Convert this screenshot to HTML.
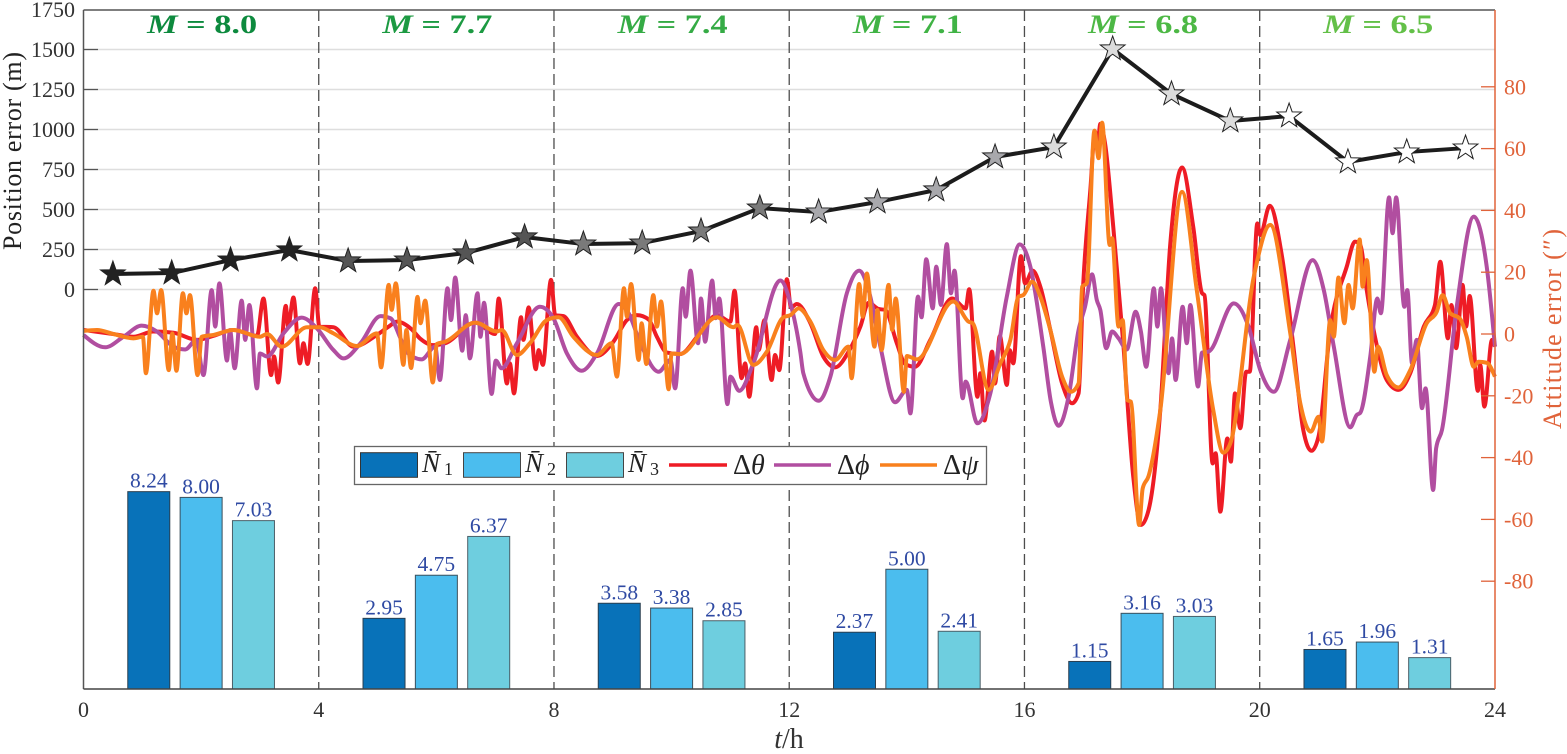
<!DOCTYPE html>
<html lang="en">
<head>
<meta charset="utf-8">
<title>Position and attitude error chart</title>
<style>
html,body{margin:0;padding:0;background:#fff;width:1567px;height:754px;overflow:hidden}
svg{display:block}
text{font-family:"Liberation Serif","DejaVu Serif",serif}
</style>
</head>
<body>
<svg id="chart" xmlns="http://www.w3.org/2000/svg" width="1567" height="754" viewBox="0 0 1567 754">
  <rect x="0" y="0" width="1567" height="754" fill="#fff"/>
  <g id="grid"></g>
  <g id="bars"></g>
  <g id="dividers"></g>
  <g id="series"></g>
  <g id="position"></g>
  <g id="axes"></g>
  <g id="phases"></g>
  <text transform="translate(21,151) rotate(-90)" text-anchor="middle" font-size="26" fill="#222" textLength="198" lengthAdjust="spacing">Position error (m)</text>
  <text transform="translate(1561,329) rotate(-90)" text-anchor="middle" font-size="26" fill="#e0633a" textLength="200" lengthAdjust="spacing">Attitude error (″)</text>
  <text x="789" y="748" text-anchor="middle" font-size="28" fill="#333"><tspan font-style="italic">t</tspan>/h</text>
  <g>
    <rect x="354.5" y="446.5" width="632" height="38" fill="#fff" stroke="#666" stroke-width="1.3"/>
    <rect x="360.5" y="452.7" width="57" height="24.6" fill="#0872b9" stroke="#333" stroke-width="1"/>
    <text x="422" y="472" font-size="27" fill="#222"><tspan font-style="italic">N̄</tspan><tspan font-size="18" dx="4" dy="3">1</tspan></text>
    <rect x="463.5" y="452.7" width="57" height="24.6" fill="#4bbdee" stroke="#444" stroke-width="1"/>
    <text x="525" y="472" font-size="27" fill="#222"><tspan font-style="italic">N̄</tspan><tspan font-size="18" dx="4" dy="3">2</tspan></text>
    <rect x="566.5" y="452.7" width="57" height="24.6" fill="#6ecedf" stroke="#444" stroke-width="1"/>
    <text x="628" y="472" font-size="27" fill="#222"><tspan font-style="italic">N̄</tspan><tspan font-size="18" dx="4" dy="3">3</tspan></text>
    <line x1="669" x2="727" y1="465" y2="465" stroke="#ee1c25" stroke-width="3.6"/>
    <text x="733" y="474" font-size="28" fill="#222">Δ<tspan font-style="italic">θ</tspan></text>
    <line x1="774" x2="831" y1="465" y2="465" stroke="#b14ea0" stroke-width="3.6"/>
    <text x="837" y="474" font-size="28" fill="#222">Δ<tspan font-style="italic">ϕ</tspan></text>
    <line x1="880" x2="937" y1="465" y2="465" stroke="#f9801d" stroke-width="3.6"/>
    <text x="943" y="474" font-size="28" fill="#222">Δ<tspan font-style="italic">ψ</tspan></text>
  </g>
</svg>
<script>
const xTicks = [0, 4, 8, 12, 16, 20, 24];
const leftTicks = [0, 250, 500, 750, 1000, 1250, 1500, 1750];
const rightTicks = [-80, -60, -40, -20, 0, 20, 40, 60, 80];
const dividerHours = [4, 8, 12, 16, 20];
const magnitudeLabels = ['8.0', '7.7', '7.4', '7.1', '6.8', '6.5'];
const phaseCenters = [2, 6, 10, 14, 18, 22];
const n1Values = [8.24, 2.95, 3.58, 2.37, 1.15, 1.65];
const n2Values = [8.00, 4.75, 3.38, 5.00, 3.16, 1.96];
const n3Values = [7.03, 6.37, 2.85, 2.41, 3.03, 1.31];
const positionHours = [0.5, 1.5, 2.5, 3.5, 4.5, 5.5, 6.5, 7.5, 8.5, 9.5, 10.5, 11.5, 12.5, 13.5, 14.5, 15.5, 16.5, 17.5, 18.5, 19.5, 20.5, 21.5, 22.5, 23.5];
const positionError = [97, 103, 184, 247, 178, 184, 228, 328, 284, 290, 365, 509, 484, 547, 622, 828, 890, 1503, 1222, 1053, 1084, 797, 859, 884];
const thetaSeries = [[0,1.3],[.5,0],[.85,-.9],[1.19,.8],[1.53,.4],[1.93,-1.9],[2.21,-.6],[2.55,1.3],[2.95,-.6],[3.06,11.5],[3.19,-13.3],[3.24,-7.3],[3.31,-15.7],[3.44,9.1],[3.48,2.4],[3.57,11.8],[3.68,-9.5],[3.74,-3],[3.81,-9.7],[3.94,14.8],[4.01,2.4],[4.25,2.2],[4.59,-4.1],[4.99,-.3],[5.19,2.4],[5.33,4],[5.58,1.5],[5.72,-1.4],[5.95,-3.6],[6.15,-3],[6.66,3.7],[7,0],[7.06,11.5],[7.2,-16],[7.25,-9.5],[7.32,-19.2],[7.44,5.4],[7.48,-1.9],[7.57,8.6],[7.69,-11.4],[7.74,-5.2],[7.81,-10],[7.95,17.5],[8.02,6.1],[8.16,5.8],[8.39,-.9],[8.73,-7.1],[9.01,-2.5],[9.24,4.5],[9.41,6.1],[9.61,4.7],[9.75,-.9],[9.92,-6],[10.14,-6.5],[10.48,.2],[10.77,6.1],[11,4],[11.07,14],[11.19,-14.3],[11.25,-9.5],[11.32,-20.3],[11.44,2.2],[11.48,-5.2],[11.58,4.5],[11.7,-14.9],[11.76,-6.8],[11.83,-11.7],[11.96,17.7],[12.03,8.6],[12.13,9.7],[12.36,3.5],[12.58,-7.3],[12.78,-10.8],[13.01,-5.7],[13.21,2.4],[13.35,10.1],[13.52,8.1],[13.63,7.8],[13.83,-3],[13.97,-9.7],[14.14,-10.6],[14.4,-1.9],[14.77,11.5],[15,8.3],[15.06,14.5],[15.2,-20.3],[15.25,-12.7],[15.32,-28],[15.45,-5.7],[15.5,-16],[15.58,-.6],[15.7,-16.5],[15.75,-5.2],[15.81,-9.5],[15.94,25.2],[16.01,16.4],[16.14,20.5],[16.27,15.3],[16.44,1.3],[16.64,-16],[16.81,-22.4],[16.92,-19.2],[17,16.4],[17.12,46.6],[17.2,65.5],[17.24,60],[17.29,68],[17.37,61.7],[17.51,34.7],[17.68,-3],[17.85,-46.2],[17.98,-61.8],[18.11,-57],[18.31,-24.6],[18.48,29.3],[18.68,53.9],[18.87,34.7],[19.02,13.2],[19.06,12.6],[19.2,-41.9],[19.25,-38.6],[19.33,-57.5],[19.45,-33.8],[19.51,-41.3],[19.58,-19.2],[19.67,-30.5],[19.77,-12.2],[19.83,-12.2],[19.96,35.8],[20.01,32],[20.17,41.5],[20.38,25],[20.58,-5.2],[20.74,-31],[20.88,-37.8],[21,-33.2],[21.2,1.3],[21.48,21.8],[21.62,29.9],[21.71,28.8],[21.82,14.2],[21.96,-.9],[22.16,-14.9],[22.36,-18.1],[22.56,-12.7],[22.79,2.4],[22.98,9.4],[23.07,23.4],[23.2,-1.4],[23.26,9.4],[23.34,-4.6],[23.45,15.9],[23.51,2.4],[23.57,12.3],[23.71,-18.4],[23.75,-10],[23.82,-23.5],[23.95,-1.9],[24,-4.1]];
const phiSeries = [[0,-.3],[.37,-4.3],[.68,-.9],[.99,2.7],[1.25,.8],[1.53,-4.1],[1.73,-5],[1.92,-1.9],[2.04,-13.3],[2.18,14.2],[2.24,2.4],[2.31,16.4],[2.44,-8.6],[2.49,1.3],[2.57,-11.1],[2.69,10.8],[2.75,-1.9],[2.82,9.4],[2.95,-17.6],[3,-6.3],[3.12,-7.3],[3.4,.2],[3.71,5.3],[3.97,1.8],[4.25,-5.2],[4.42,-7.9],[4.71,-3],[5.05,5.8],[5.22,5.1],[5.39,-1.4],[5.49,-5.7],[5.75,-8.2],[5.98,-4.1],[6.06,-14.9],[6.19,14.8],[6.25,4.5],[6.32,18.3],[6.44,-5.4],[6.5,6.1],[6.57,-7.9],[6.7,13.2],[6.75,-.9],[6.81,10.1],[6.94,-19.4],[7.01,-8.6],[7.11,-11.1],[7.37,-3],[7.76,8.8],[7.99,5.1],[8.22,-6.3],[8.47,-11.9],[8.73,-6.3],[9.1,9.7],[9.27,6.7],[9.46,-2.5],[9.78,-12.2],[9.98,-8.4],[10.06,-17.6],[10.19,14.8],[10.24,5.6],[10.32,20.5],[10.45,-3],[10.5,11.5],[10.57,-2.5],[10.69,17.3],[10.75,5.1],[10.81,11.5],[10.95,-22.7],[11,-13.8],[11.15,-18.4],[11.39,-9.5],[11.85,17.3],[12.02,10],[12.19,-6],[12.24,-12.7],[12.5,-21.6],[12.7,-13.8],[12.98,13.2],[13.19,20.5],[13.35,14.2],[13.55,-4.1],[13.8,-22.1],[14,-18.1],[14.06,-25.7],[14.19,12.1],[14.25,5.4],[14.33,24.2],[14.44,8.3],[14.5,21.8],[14.58,9.4],[14.68,29.1],[14.75,13.2],[14.81,20.5],[14.95,-20.8],[15,-15.4],[15.2,-28.9],[15.42,-19.2],[15.7,12.1],[15.92,29],[16.1,21.8],[16.32,-4.1],[16.45,-22],[16.58,-29.7],[16.75,-20.3],[16.92,1.3],[17.03,8.8],[17.15,19.3],[17.23,11],[17.29,7.8],[17.39,-4.6],[17.49,.8],[17.6,-1.4],[17.74,-5],[17.89,7.2],[17.98,.8],[18.07,-10.6],[18.2,14.8],[18.26,2.4],[18.32,14.8],[18.45,-12.7],[18.51,-1.4],[18.57,-14.9],[18.69,8.8],[18.76,-3],[18.82,9.4],[18.95,-17],[19.02,-6],[19.13,-5.7],[19.56,9.9],[19.81,2.4],[20.01,-11.7],[20.24,-18.7],[20.52,-1.9],[20.9,23.9],[21.09,14.2],[21.26,-4.1],[21.54,-30.2],[21.65,-26.2],[21.71,-25.5],[21.88,-7.3],[22,11.5],[22.06,6.7],[22.2,44.2],[22.26,32.6],[22.32,44.2],[22.46,8.8],[22.51,14.2],[22.59,-9.5],[22.67,-1.9],[22.76,-24],[22.82,-17.6],[22.95,-50.5],[23,-37],[23.1,-31],[23.35,8.8],[23.64,38],[23.86,21.8],[24,-4.1]];
const psiSeries = [[0,1],[.23,1.3],[.51,0],[.85,-1.4],[1.01,-.9],[1.06,-12.7],[1.19,14],[1.25,6.7],[1.32,14.2],[1.45,-11.7],[1.51,.2],[1.58,-11.9],[1.69,13.2],[1.75,6.7],[1.81,12.6],[1.94,-13.3],[2.01,-.9],[2.21,-.3],[2.55,1.3],[3,-.9],[3.12,0],[3.37,-4.1],[3.8,2.2],[4.02,2.2],[4.25,.2],[4.65,-3.9],[4.99,.2],[5.06,-10.8],[5.19,15.9],[5.24,7.8],[5.31,16.4],[5.44,-10],[5.49,1.3],[5.57,-11],[5.68,12],[5.73,3.5],[5.81,10.8],[5.94,-15.7],[6.01,-3.2],[6.15,-2.5],[6.66,3.7],[7.03,.8],[7.11,1.3],[7.37,-6.8],[7.59,-3],[7.88,4.5],[8.08,5.4],[8.33,-.9],[8.73,-6.8],[8.98,-3],[9.07,-13.8],[9.19,14.8],[9.24,5.6],[9.31,16.2],[9.44,-8.4],[9.49,3.5],[9.57,-9.7],[9.69,12.6],[9.75,2.4],[9.82,10.5],[9.95,-17.9],[10,-6.3],[10.14,-6.5],[10.77,5.4],[11.05,2.2],[11.12,2.9],[11.39,-10],[11.62,-5.7],[11.9,5.4],[12.02,6.1],[12.16,8.3],[12.36,4],[12.58,-5.2],[12.78,-8.4],[13.01,-4.1],[13.06,-14.3],[13.19,16.2],[13.25,5.6],[13.32,19.6],[13.45,-4.1],[13.5,7.8],[13.57,-5.2],[13.69,15.9],[13.75,1.3],[13.81,11.5],[13.95,-18.7],[14,-7.1],[14.17,-8.2],[14.79,10.5],[15.05,4],[15.12,3.5],[15.39,-18.1],[15.59,-9.5],[15.76,-1.9],[15.9,12.1],[15.98,12.6],[16.13,16.9],[16.27,12.1],[16.44,1.3],[16.64,-13.8],[16.79,-18.7],[16.92,-16],[16.98,15.3],[17.06,16.4],[17.19,65.8],[17.26,56.9],[17.32,68.4],[17.45,28.8],[17.49,31],[17.6,2.4],[17.67,4.5],[17.75,-21.4],[17.81,-21.9],[17.95,-61.8],[18.01,-50],[18.11,-46],[18.31,-24.6],[18.68,46],[18.93,14.2],[19.21,-24.6],[19.38,-38.4],[19.5,-35.4],[19.9,18.6],[20.18,35.3],[20.52,.2],[20.69,-22.4],[20.87,-31.6],[21,-26.8],[21.06,-34.8],[21.2,4.5],[21.26,-.9],[21.34,18.3],[21.44,3.5],[21.51,15.9],[21.58,8.3],[21.7,30.6],[21.75,15.3],[21.82,23.9],[21.95,-12.2],[22.01,-4.1],[22.16,-13.3],[22.36,-17.3],[22.56,-11.7],[22.84,3.5],[23.01,7.2],[23.11,12.6],[23.24,6.7],[23.4,5.1],[23.52,-.9],[23.64,-10.6],[23.72,-9],[23.86,-9.3],[24,-13.8]];

const NS = 'http://www.w3.org/2000/svg';
function xScale(h) { return 83.5 + h * 58.81; }
function yLeft(v) { return 289.5 - v * 0.16; }
function yRight(v) { return 334 - v * 3.09; }
function yBar(v) { return 689 - v * 23.95; }
function make(parentId, tag, attrs, text) {
  const el = document.createElementNS(NS, tag);
  for (const k in attrs) el.setAttribute(k, attrs[k]);
  if (text !== undefined) el.textContent = text;
  document.getElementById(parentId).appendChild(el);
  return el;
}
function monotonePath(pts) {
  const n = pts.length, h = [], s = [], m = [];
  for (let i = 0; i < n - 1; i++) {
    h[i] = pts[i + 1][0] - pts[i][0];
    s[i] = (pts[i + 1][1] - pts[i][1]) / h[i];
  }
  for (let i = 1; i < n - 1; i++) {
    const p = (s[i - 1] * h[i] + s[i] * h[i - 1]) / (h[i - 1] + h[i]);
    m[i] = (Math.sign(s[i - 1]) + Math.sign(s[i])) * Math.min(Math.abs(s[i - 1]), Math.abs(s[i]), 0.5 * Math.abs(p));
  }
  m[0] = (3 * s[0] - m[1]) / 2;
  m[n - 1] = (3 * s[n - 2] - m[n - 2]) / 2;
  let d = 'M' + pts[0][0].toFixed(2) + ' ' + pts[0][1].toFixed(2);
  for (let i = 0; i < n - 1; i++) {
    const dx = h[i] / 3;
    d += 'C' + (pts[i][0] + dx).toFixed(2) + ' ' + (pts[i][1] + dx * m[i]).toFixed(2) + ' ' +
      (pts[i + 1][0] - dx).toFixed(2) + ' ' + (pts[i + 1][1] - dx * m[i + 1]).toFixed(2) + ' ' +
      pts[i + 1][0].toFixed(2) + ' ' + pts[i + 1][1].toFixed(2);
  }
  return d;
}

/* grid lines and left axis ticks */
leftTicks.forEach(function (t) {
  if (t < 1750) {
    const g = make('grid', 'line', { x1: 83.5, x2: 1495, y1: yLeft(t), y2: yLeft(t), stroke: '#dedede', 'stroke-width': 1.6 });
    
    
    const k = make('axes', 'line', { x1: 83.5, x2: 98, y1: yLeft(t), y2: yLeft(t), stroke: '#555', 'stroke-width': 1.3 });
    
    
  }
  const lab = make('axes', 'text', { x: 75, y: yLeft(t) + 7.5, 'text-anchor': 'end', 'font-size': 22, fill: '#333' }, String(t));
  
  
});

/* right axis ticks */
rightTicks.forEach(function (t) {
  const k = make('axes', 'line', { x1: 1481, x2: 1495, y1: yRight(t), y2: yRight(t), stroke: '#e0633a', 'stroke-width': 1.3 });
  
  
  const lab = make('axes', 'text', { x: 1504, y: yRight(t) + 7.5, 'font-size': 22, fill: '#e0633a' }, String(t));
  
  
});

/* x tick labels */
xTicks.forEach(function (t) {
  const lab = make('axes', 'text', { x: xScale(t), y: 717, 'text-anchor': 'middle', 'font-size': 22, fill: '#333' }, String(t));
  
  
});

/* bars */
const barSets = [
  { values: n1Values, offset: -0.89, fill: '#0872b9', stroke: '#2a3f50' },
  { values: n2Values, offset: 0, fill: '#4bbdee', stroke: '#3a4f5c' },
  { values: n3Values, offset: 0.89, fill: '#6ecedf', stroke: '#4a5f68' }
];
barSets.forEach(function (set) {
  set.values.forEach(function (v, i) {
    const cx = xScale(phaseCenters[i] + set.offset);
    const bar = make('bars', 'rect', { x: cx - 21, y: yBar(v), width: 42, height: 689 - yBar(v), fill: set.fill, stroke: set.stroke, 'stroke-width': 1 });
    
    
    const lab = make('bars', 'text', { x: cx, y: yBar(v) - 4, 'text-anchor': 'middle', 'font-size': 21.5, fill: '#2f4aa3' }, v.toFixed(2));
    
    
  });
});

/* phase dividers */
dividerHours.forEach(function (h) {
  const l = make('dividers', 'line', { x1: xScale(h), x2: xScale(h), y1: 10, y2: 689, stroke: '#4d4d4d', 'stroke-width': 1.3, 'stroke-dasharray': '11 5' });
  
  
});

/* attitude series */
[[thetaSeries, '#ee1c25', 'theta-line'], [phiSeries, '#b14ea0', 'phi-line'], [psiSeries, '#f9801d', 'psi-line']].forEach(function (s) {
  const pts = s[0].map(function (p) { return [xScale(p[0]), yRight(p[1])]; });
  const path = make('series', 'path', { d: monotonePath(pts), fill: 'none', stroke: s[1], 'stroke-width': 4, 'stroke-linejoin': 'round' });
  
  
});

/* position error line + stars */
const posLine = make('position', 'polyline', {
  points: positionHours.map(function (h, i) { return xScale(h) + ',' + yLeft(positionError[i]); }).join(' '),
  fill: 'none', stroke: '#1c1c1c', 'stroke-width': 4, 'stroke-linejoin': 'round'
});


const starFills = ['#222222', '#555555', '#7a7a7a', '#a8a8ac', '#dcdcdc', '#ffffff'];
positionHours.forEach(function (h, i) {
  const cx = xScale(h), cy = yLeft(positionError[i]), pts = [];
  for (let k = 0; k < 10; k++) {
    const r = k % 2 === 0 ? 13 : 5.2;
    const a = -Math.PI / 2 + k * Math.PI / 5;
    pts.push((cx + r * Math.cos(a)).toFixed(2) + ',' + (cy + r * Math.sin(a)).toFixed(2));
  }
  const star = make('position', 'polygon', { points: pts.join(' '), fill: starFills[Math.floor(i / 4)], stroke: '#222', 'stroke-width': 1 });
  
  
});

/* magnitude labels */
const magnitudeColors = ['#0d8a3e', '#1c9a42', '#35ab45', '#40b345', '#4db845', '#63c048'];
magnitudeLabels.forEach(function (m, i) {
  const t = make('phases', 'text', { x: xScale(phaseCenters[i]) + 1, y: 33, 'text-anchor': 'middle', 'font-size': 26, 'font-weight': 'bold', fill: magnitudeColors[i], textLength: 110, lengthAdjust: 'spacingAndGlyphs' });
  
  
  const it = document.createElementNS(NS, 'tspan');
  it.setAttribute('font-style', 'italic');
  it.textContent = 'M';
  t.appendChild(it);
  t.appendChild(document.createTextNode(' = ' + m));
});

/* axis frame */
[[83.5, 10, 1495, 10, '#555', 'top-axis'], [83.5, 10, 83.5, 689, '#555', 'left-axis'], [83.5, 689, 1495, 689, '#444', 'x-axis'], [1495, 10, 1495, 689, '#e0633a', 'right-axis']].forEach(function (a) {
  const l = make('axes', 'line', { x1: a[0], y1: a[1], x2: a[2], y2: a[3], stroke: a[4], 'stroke-width': 1.5 });
  
  
});
</script>
</body>
</html>
